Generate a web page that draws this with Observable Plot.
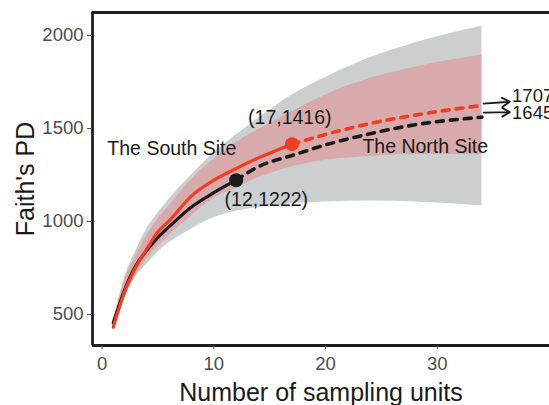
<!DOCTYPE html>
<html><head><meta charset="utf-8">
<script src="https://cdn.jsdelivr.net/npm/d3@7"></script>
<script src="https://cdn.jsdelivr.net/npm/@observablehq/plot@0.6"></script>
<style>html,body{margin:0;padding:0;background:#fff;overflow:hidden} svg{display:block}</style>
</head><body><div id="chart"></div>
<script>
// Ribbon (confidence band) sample points
const bandUnits   = [1,   2,   3,   4,   5,    6,    8,    10,   12,   14,   17,   20,   24,   28,   34];
const northLower  = [420, 585, 700, 770, 835,  885,  960,  1020, 1055, 1075, 1095, 1105, 1110, 1105, 1085];
const northUpper  = [465, 695, 840, 960, 1045, 1120, 1250, 1370, 1465, 1555, 1680, 1775, 1880, 1960, 2050];
const southLower  = [410, 585, 710, 795, 865,  925,  1030, 1125, 1180, 1235, 1295, 1330, 1350, 1360, 1360];
const southUpper  = [450, 680, 815, 925, 1015, 1085, 1225, 1335, 1425, 1495, 1590, 1680, 1770, 1830, 1895];

// North site (black): observed (solid) and extrapolated (dashed)
const northObsX = [1, 2, 3, 4, 5, 6, 8, 10, 12];
const northObsY = [455, 630, 760, 845, 915, 972, 1078, 1155, 1222];
const northExtX = [12, 14, 17, 20, 24, 28, 34];
const northExtY = [1222, 1295, 1355, 1412, 1472, 1520, 1561];

// South site (red)
const southObsX = [1, 2, 3, 4, 5, 6, 8, 10, 12, 14, 17];
const southObsY = [432, 620, 752, 852, 945, 1003, 1138, 1222, 1285, 1342, 1416];
const southExtX = [17, 20, 24, 28, 34];
const southExtY = [1416, 1468, 1527, 1572, 1624];

// Reference points
const refX = [12, 17];
const refY = [1222, 1416];
const refColor = ["#1a1a1a", "#ef3e23"];

// Texts
const siteLabels = ["The South Site", "The North Site"];
const siteLabelX = [0.47, 23.3];
const siteLabelY = [1392, 1403];
const pointLabels = ["(12,1222)", "(17,1416)"];
const pointLabelX = [14.7, 16.8];
const pointLabelY = [1118, 1557];

// Asymptote arrows
const asymLabels = ["1707", "1645"];
const arrowX1 = [34.15, 34.15];
const arrowX2 = [36.5, 36.5];
const arrowY1 = [1634, 1586];
const arrowY2 = [1644, 1588];
const asymLabelX = [36.7, 36.7];
const asymLabelY = [1677, 1583];

const xTicks = [0, 10, 20, 30];
const yTicks = [500, 1000, 1500, 2000];
const xDomain = [-0.86, 40.05];
const yDomain = [333, 2124];

const band = (lo, hi) => bandUnits.map((u, i) => ({u, lo: lo[i], hi: hi[i]}));
const pts = (xs, ys) => xs.map((x, i) => ({x, y: ys[i]}));

const RED = "#ef3e23", BLACK = "#1a1a1a";

const chart = Plot.plot({
  width: 549, height: 405,
  marginLeft: 92, marginRight: 0, marginTop: 12, marginBottom: 60,
  style: {fontFamily: "'Liberation Sans', Arial, sans-serif", background: "#fff", overflow: "visible"},
  x: {domain: xDomain, label: null},
  y: {domain: yDomain, label: null},
  marks: [
    Plot.areaY(band(northLower, northUpper), {x: "u", y1: "lo", y2: "hi", fill: "#cbcfcf", curve: "monotone-x"}),
    Plot.areaY(band(southLower, southUpper), {x: "u", y1: "lo", y2: "hi", fill: "#d9aaab", curve: "monotone-x"}),
    Plot.line(pts(northObsX, northObsY), {x: "x", y: "y", stroke: BLACK, strokeWidth: 3.2, curve: "monotone-x"}),
    Plot.line(pts(northExtX, northExtY), {x: "x", y: "y", stroke: BLACK, strokeWidth: 3.6, strokeDasharray: "7,7", curve: "monotone-x"}),
    Plot.line(pts(southObsX, southObsY), {x: "x", y: "y", stroke: RED, strokeWidth: 3.2, curve: "monotone-x"}),
    Plot.line(pts(southExtX, southExtY), {x: "x", y: "y", stroke: RED, strokeWidth: 3.6, strokeDasharray: "7,7", curve: "monotone-x"}),
    Plot.dot(refX.map((x, i) => ({x, y: refY[i], c: refColor[i]})), {x: "x", y: "y", r: 7, fill: "c", stroke: null}),
    Plot.text(siteLabels.map((t, i) => ({t, x: siteLabelX[i], y: siteLabelY[i]})), {x: "x", y: "y", text: "t", textAnchor: "start", fontSize: 19.5, fill: BLACK}),
    Plot.text(pointLabels.map((t, i) => ({t, x: pointLabelX[i], y: pointLabelY[i]})), {x: "x", y: "y", text: "t", textAnchor: "middle", fontSize: 19.5, fill: BLACK}),
    Plot.arrow(asymLabels.map((t, i) => ({x1: arrowX1[i], x2: arrowX2[i], y1: arrowY1[i], y2: arrowY2[i]})), {x1: "x1", y1: "y1", x2: "x2", y2: "y2", stroke: BLACK, strokeWidth: 1.8, headLength: 8}),
    Plot.text(asymLabels.map((t, i) => ({t, x: asymLabelX[i], y: asymLabelY[i]})), {x: "x", y: "y", text: "t", textAnchor: "start", fontSize: 18.5, fill: BLACK}),
    // panel border (left, top, bottom)
    Plot.ruleX([xDomain[0]], {stroke: "#1e1e1e", strokeWidth: 2.8}),
    Plot.ruleY([yDomain[0], yDomain[1]], {stroke: "#1e1e1e", strokeWidth: 2.8}),
    Plot.axisX({ticks: xTicks, tickSize: 4, tickPadding: 7, fontSize: 18.5, color: "#4d4d4d", label: null}),
    Plot.axisY({ticks: yTicks, tickFormat: d => String(d), tickSize: 5, tickPadding: 4, fontSize: 18.5, color: "#4d4d4d", label: null}),
    Plot.text(["Number of sampling units"], {frameAnchor: "bottom", dy: 47, lineAnchor: "middle", textAnchor: "middle", fontSize: 25, fill: BLACK}),
    Plot.text(["Faith's PD"], {frameAnchor: "left", dx: -67, rotate: -90, lineAnchor: "middle", textAnchor: "middle", fontSize: 25, fill: BLACK})
  ]
});
document.getElementById("chart").appendChild(chart);
</script>
</body></html>
